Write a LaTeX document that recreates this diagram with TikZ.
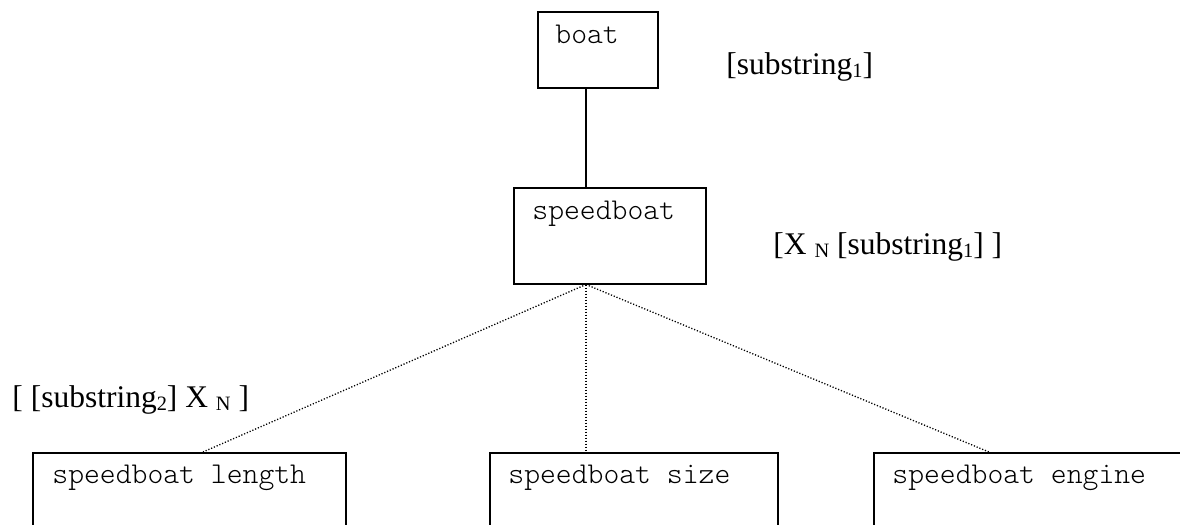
\documentclass[tikz,border=0pt]{standalone}
\usepackage{fontspec}
\setmainfont{Liberation Serif}
\setmonofont{Latin Modern Mono Light}
\usetikzlibrary{calc}
\newcommand\mysub[1]{\raisebox{-0.12em}{\fontsize{10.2pt}{12pt}\selectfont #1}}
\tikzset{
  box/.style={draw, line width=0.75pt, rectangle, inner sep=0pt, anchor=north west},
  boxtext/.style={anchor=base west, inner sep=0pt, font=\fontsize{15.1pt}{17pt}\ttfamily},
  lbl/.style={anchor=base west, inner sep=0pt, font=\fontsize{15.75pt}{18pt}\selectfont},
  solidlink/.style={line width=0.75pt},
  dotlink/.style={line width=0.65pt, dash pattern=on 0.6pt off 0.9pt}
}
\begin{document}
\begin{tikzpicture}[x=0.5pt, y=-0.5pt]
\useasboundingbox (0,0) rectangle (1180,525);
% boxes
\node[box, minimum width=60pt, minimum height=38pt] (boat) at (537,11) {};
\node[box, minimum width=96pt, minimum height=48pt] (speedboat) at (513,187) {};
\node[box, minimum width=156.5pt, minimum height=37pt] (length) at (32,452) {};
\node[box, minimum width=144pt, minimum height=37pt] (size) at (489,452) {};
\node[box, minimum width=156.5pt, minimum height=37pt] (engine) at (873,452) {};
% box texts
\node[boxtext] (boatT) at (555,43) {boat};
\node[boxtext] (speedboatT) at (532,219) {speedboat};
\node[boxtext] (lengthT) at (52,483) {speedboat length};
\node[boxtext] (sizeT) at (508,483) {speedboat size};
\node[boxtext] (engineT) at (892,483) {speedboat engine};
% labels
\node[lbl] (l1) at (726,74) {[substring\mysub{1}]};
\node[lbl] (l2) at (773,254) {[X \mysub{N} [substring\mysub{1}] ]};
\node[lbl] (l3) at (12,407) {[ [substring\mysub{2}] X \mysub{N} ]};
% connector points
\coordinate (apex) at ($(speedboat.south west)+(73,0)$);
\coordinate (lenTop) at ($(length.north west)+(171,0)$);
\coordinate (engTop) at ($(engine.north west)+(116,0)$);
% connectors
\draw[solidlink] (apex |- boat.south) -- (apex |- speedboat.north);
\draw[dotlink] (apex) -- (lenTop);
\draw[dotlink] (apex) -- (apex |- size.north);
\draw[dotlink] (apex) -- (engTop);
\end{tikzpicture}
\end{document}
